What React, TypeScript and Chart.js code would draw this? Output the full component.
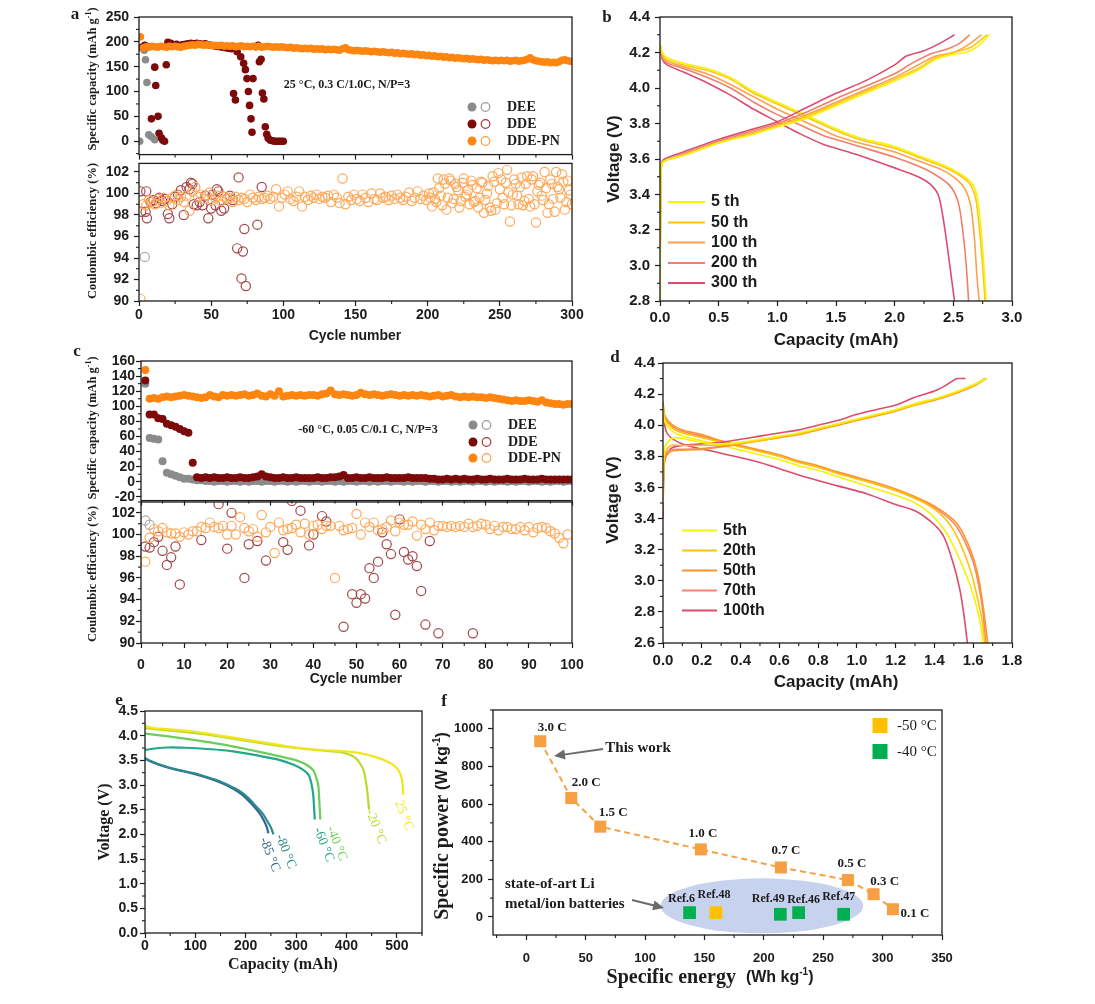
import React, { useEffect, useRef } from "react";
import { Chart, registerables } from "chart.js";

Chart.register(...registerables);

const SANS = "'Liberation Sans', Arial, Helvetica, sans-serif";
const SERIF = "'Liberation Serif', 'Times New Roman', Times, serif";
const INK = "#1c1c1c";
const sans = (px: number, w = "bold") => `${w} ${px}px ${SANS}`;
const serif = (px: number, w = "bold") => `${w} ${px}px ${SERIF}`;

type Pt = [number, number];

// ---------- (a) cycling at 25 °C ----------
const deeCapA: Pt[] = [[0.5, 0], [3.6, 183], [4.5, 164], [5.5, 118], [6.8, 13], [8.6, 9], [10.9, 3]];
const ddeCapA: Pt[] = [[2, 189], [4, 193], [6, 190], [8.6, 45], [10.9, 149], [11.6, 112], [13.2, 50], [13.9, 16], [15.5, 7], [16.5, 2], [17.7, 0], [18.9, 154], [20, 199], [22, 197], [24, 193], [26, 195], [28, 192], [30, 194], [32, 195], [34, 196], [36, 197], [38, 196], [40, 197], [42, 196], [44, 195], [46, 196], [48, 194], [50, 193], [52, 192], [54, 191], [56, 190], [58, 189], [60, 188], [62, 187], [64, 186], [65.5, 96], [66.8, 83], [68, 180], [70.5, 170], [72.5, 157], [73.7, 144], [74.8, 126], [75.8, 100], [76.6, 72], [77.6, 45], [78.3, 18], [79, 126], [81, 190], [82.5, 193], [83.4, 160], [84.6, 165], [85.5, 97], [86.5, 85], [87.5, 29], [88.5, 14], [89.5, 6], [91, 2], [92.5, 1], [94, 0], [95.5, 0], [97, 0], [98.5, 0], [100, 0]];
// DDE-PN capacity, odd cycles 1, 3, 5 ... 299
const pnCapA: number[] = [
  210, 188, 190, 189, 191, 190, 189, 191, 190, 189, 191, 190, 191, 190, 189, 191, 192, 193, 194, 193,
  195, 194, 193, 194, 193, 192, 193, 192, 193, 191, 192, 191, 192, 190, 191, 192, 190, 191, 190, 191,
  190, 191, 189, 190, 191, 190, 189, 190, 189, 190, 189, 188, 189, 187, 188, 187, 186, 187, 186, 187,
  185, 186, 185, 186, 184, 185, 184, 185, 184, 183, 186, 188, 184, 183, 182, 183, 182, 181, 182, 181,
  180, 181, 180, 179, 180, 179, 178, 179, 177, 178, 176, 177, 176, 175, 176, 174, 175, 173, 174, 172,
  173, 171, 172, 170, 171, 169, 170, 168, 169, 167, 168, 167, 166, 167, 165, 166, 165, 164, 165, 163,
  164, 163, 162, 163, 162, 163, 162, 163, 161, 162, 163, 161, 162, 163, 165, 168, 164, 162, 161, 160,
  159, 160, 158, 159, 158, 160, 163, 164, 162, 161,
];
const deeCeA: Pt[] = [[4, 94.1]];
const ddeCeA: Pt[] = [[1, 100.2], [1.5, 98.3], [4.6, 98.3], [5, 100.2], [5.5, 97.7], [8, 99.2], [10, 99.4], [12, 99.1], [14, 99.6], [16, 99.3], [18, 99.5], [20, 98.1], [21, 97.7], [23, 99.0], [25, 99.7], [27, 99.9], [29, 100.3], [31, 98.0], [33, 100.6], [35, 100.4], [36, 101.0], [37, 100.9], [38, 99.0], [40, 98.9], [42, 99.2], [44, 98.9], [46, 99.8], [48, 97.7], [50, 98.6], [51, 99.9], [53, 98.9], [54, 100.4], [55, 100.2], [57, 98.4], [59, 98.6], [61, 99.5], [63, 99.8], [65, 99.4], [68, 94.9], [69, 101.5], [71, 92.1], [72, 94.6], [73, 96.7], [74, 91.4], [82, 97.1], [85, 100.6]];
// DDE-PN coulombic efficiency, odd cycles 1 ... 299
const pnCeA: number[] = [
  90.2, 99.0, 98.9, 99.4, 99.2, 99.0, 99.5, 99.1, 99.6, 99.3, 98.9, 99.6, 99.8, 99.4, 99.7, 99.2, 99.8, 98.4, 100.2, 100.6,
  99.7, 99.9, 99.5, 99.8, 100.1, 99.4, 99.6, 99.8, 99.3, 99.7, 99.5, 99.6, 99.2, 99.7, 99.4, 99.6, 99.5, 99.2, 99.9, 99.6,
  99.4, 99.7, 99.5, 99.6, 99.8, 99.5, 99.7, 100.4, 98.8, 99.6, 99.9, 100.2, 99.5, 99.3, 99.7, 100.2, 98.8, 99.7, 99.4, 99.8,
  99.6, 99.9, 99.5, 99.7, 99.6, 99.8, 99.2, 99.9, 99.6, 99.1, 101.4, 99.0, 99.7, 99.4, 99.9, 99.5, 99.3, 99.9, 99.6, 99.2,
  100.0, 99.5, 99.4, 100.0, 99.6, 99.7, 99.4, 99.8, 99.5, 99.9, 99.6, 99.4, 99.7, 100.1, 99.3, 99.6, 100.2, 99.5, 99.8, 99.4,
  100.0, 98.8, 99.5, 101.4, 99.8, 101.3, 98.5, 101.4, 99.1, 100.9, 100.3, 99.3, 101.4, 99.9, 99.0, 100.8, 99.3, 98.7, 101.1, 98.2,
  100.0, 98.7, 101.6, 98.5, 101.9, 101.3, 99.0, 102.2, 97.4, 99.9, 100.9, 99.0, 101.5, 99.3, 101.6, 98.8, 101.6, 97.3, 100.8, 99.8,
  102.0, 98.2, 101.3, 99.5, 102.0, 100.4, 101.8, 98.5, 101.2, 99.9,
];
// DDE-PN coulombic efficiency, even cycles 202 ... 300
const pnCeALate: number[] = [
  99.6, 100.1, 99.2, 100.5, 98.9, 100.9, 99.6, 101.2, 99.5, 100.6, 98.7, 101.0, 99.7, 100.3, 101.2, 99.2, 100.5, 99.6, 101.0, 99.4,
  100.7, 98.4, 101.1, 99.1, 100.4, 99.6, 101.0, 100.1, 98.9, 101.3, 99.8, 100.6, 98.9, 100.9, 99.5, 101.3, 99.0, 100.2, 101.0, 99.4,
  100.5, 99.0, 100.9, 98.3, 100.6, 99.6, 101.1, 99.2, 100.3, 99.0,
];

// ---------- (b) voltage profiles at 25 °C ----------
const bLabels = ["5 th", "50 th", "100 th", "200 th", "300 th"];
const bColors = ["#f3f30c", "#ffc60d", "#fba250", "#f0806c", "#dc4c70"];
const bChg5: Pt[] = [[0, 2.8], [0.004, 3.3], [0.012, 3.56], [0.04, 3.59], [0.2, 3.62], [0.5, 3.69], [0.8, 3.74], [1.0, 3.78], [1.25, 3.83], [1.5, 3.9], [1.75, 3.97], [2.0, 4.04], [2.2, 4.1], [2.35, 4.16], [2.5, 4.19], [2.6, 4.2], [2.7, 4.23], [2.81, 4.3]];
const bChg50: Pt[] = [[0, 2.8], [0.004, 3.3], [0.012, 3.56], [0.04, 3.59], [0.2, 3.62], [0.5, 3.69], [0.8, 3.745], [1.0, 3.785], [1.25, 3.84], [1.5, 3.91], [1.75, 3.98], [2.0, 4.05], [2.2, 4.11], [2.35, 4.17], [2.5, 4.2], [2.65, 4.23], [2.79, 4.3]];
const bChg100: Pt[] = [[0, 2.8], [0.004, 3.3], [0.012, 3.56], [0.04, 3.59], [0.2, 3.625], [0.5, 3.695], [0.8, 3.75], [1.0, 3.79], [1.25, 3.85], [1.5, 3.92], [1.75, 3.99], [2.0, 4.06], [2.2, 4.13], [2.35, 4.18], [2.5, 4.2], [2.62, 4.24], [2.74, 4.3]];
const bChg200: Pt[] = [[0, 2.8], [0.004, 3.3], [0.012, 3.56], [0.04, 3.59], [0.2, 3.63], [0.5, 3.7], [0.8, 3.76], [1.0, 3.8], [1.25, 3.865], [1.5, 3.94], [1.75, 4.01], [2.0, 4.08], [2.15, 4.14], [2.3, 4.19], [2.45, 4.22], [2.55, 4.25], [2.64, 4.3]];
const bChg300: Pt[] = [[0, 2.8], [0.004, 3.3], [0.012, 3.57], [0.04, 3.6], [0.2, 3.64], [0.5, 3.71], [0.8, 3.77], [1.0, 3.81], [1.25, 3.89], [1.5, 3.97], [1.75, 4.04], [2.0, 4.13], [2.1, 4.18], [2.25, 4.21], [2.38, 4.25], [2.51, 4.3]];
const bDis5: Pt[] = [[0, 4.25], [0.02, 4.2], [0.06, 4.17], [0.2, 4.14], [0.4, 4.11], [0.6, 4.06], [0.8, 3.98], [1.0, 3.92], [1.2, 3.86], [1.4, 3.8], [1.5, 3.77], [1.7, 3.72], [2.0, 3.67], [2.2, 3.62], [2.4, 3.57], [2.55, 3.52], [2.65, 3.47], [2.7, 3.4], [2.73, 3.25], [2.76, 3.0], [2.78, 2.8]];
const bDis50: Pt[] = [[0, 4.25], [0.02, 4.19], [0.06, 4.16], [0.2, 4.13], [0.4, 4.1], [0.6, 4.05], [0.8, 3.97], [1.0, 3.91], [1.2, 3.85], [1.4, 3.79], [1.5, 3.76], [1.7, 3.71], [2.0, 3.66], [2.2, 3.61], [2.4, 3.56], [2.55, 3.51], [2.64, 3.46], [2.69, 3.38], [2.72, 3.22], [2.75, 3.0], [2.77, 2.8]];
const bDis100: Pt[] = [[0, 4.24], [0.02, 4.18], [0.06, 4.15], [0.2, 4.12], [0.4, 4.08], [0.6, 4.02], [0.8, 3.95], [1.0, 3.88], [1.2, 3.82], [1.4, 3.76], [1.5, 3.73], [1.7, 3.69], [2.0, 3.64], [2.2, 3.59], [2.4, 3.54], [2.52, 3.49], [2.6, 3.43], [2.65, 3.33], [2.68, 3.15], [2.7, 2.95], [2.72, 2.8]];
const bDis200: Pt[] = [[0, 4.24], [0.02, 4.17], [0.06, 4.14], [0.2, 4.11], [0.4, 4.06], [0.6, 4.0], [0.8, 3.92], [1.0, 3.85], [1.2, 3.79], [1.4, 3.73], [1.5, 3.71], [1.7, 3.67], [2.0, 3.61], [2.2, 3.56], [2.35, 3.51], [2.47, 3.45], [2.54, 3.36], [2.58, 3.2], [2.61, 3.0], [2.63, 2.8]];
const bDis300: Pt[] = [[0, 4.24], [0.02, 4.16], [0.06, 4.13], [0.2, 4.09], [0.4, 4.03], [0.6, 3.96], [0.8, 3.88], [1.0, 3.81], [1.2, 3.74], [1.4, 3.68], [1.5, 3.66], [1.7, 3.62], [2.0, 3.55], [2.2, 3.5], [2.3, 3.46], [2.37, 3.4], [2.41, 3.28], [2.45, 3.1], [2.48, 2.95], [2.51, 2.8]];

// ---------- (c) cycling at -60 °C ----------
const pnCapC: number[] = [
  148, 110, 111, 110, 112, 113, 112, 113, 114, 115, 114, 113, 112, 111, 112, 115, 113, 112, 115, 114,
  115, 114, 115, 116, 114, 115, 117, 114, 113, 116, 114, 120, 113, 114, 115, 114, 115, 114, 115, 115,
  114, 116, 117, 121, 116, 115, 116, 115, 114, 115, 118, 116, 115, 116, 115, 114, 115, 116, 115, 114,
  115, 114, 115, 114, 115, 114, 113, 114, 115, 113, 114, 115, 113, 112, 113, 112, 113, 112, 112, 111,
  112, 111, 110, 109, 108, 107, 108, 107, 107, 108, 107, 106, 108, 105, 104, 103, 103, 102, 103, 103,
];
const ddeCapC: number[] = [
  134, 89, 89, 84, 83, 77, 75, 73, 70, 67, 65, 25, 6, 5, 6, 5, 6, 5, 5, 6,
  5, 5, 6, 5, 5, 6, 7, 10, 7, 6, 5, 5, 6, 5, 5, 6, 5, 5, 5, 5,
  6, 5, 5, 6, 6, 7, 9, 5, 5, 6, 5, 5, 6, 5, 5, 5, 6, 5, 5, 5,
  5, 6, 5, 5, 5, 5, 4, 4, 3, 3, 4, 3, 4, 3, 4, 3, 3, 4, 3, 3,
  4, 3, 3, 3, 4, 3, 3, 3, 4, 3, 3, 3, 4, 3, 3, 3, 3, 3, 3, 3,
];
const deeCapC: number[] = [
  130, 58, 57, 56, 27, 12, 10, 8, 6, 4, 4, 3, 2, 2, 1, 1, 0, 1, 1, 0,
  1, 1, 0, 1, 0, 1, 1, 0, 1, 1, 0, 1, 1, 0, 1, 0, 1, 1, 0, 1,
  1, 0, 1, 1, 0, 1, 0, 1, 1, 0, 1, 1, 0, 1, 0, 1, 1, 0, 1, 1,
  0, 1, 0, 1, 1, 0, 1, 1, 0, 1, 1, 0, 1, 0, 1, 1, 0, 1, 1, 0,
  1, 0, 1, 1, 0, 1, 0, 1, 1, 0, 1, 1, 0, 1, 0, 1, 1, 0, 1, 1,
];
const pnCeC: number[] = [
  97.5, 99.7, 100.5, 100.3, 100.6, 100.2, 100.1, 100.1, 99.8, 100.2, 100.0, 100.3, 100.3, 100.7, 100.6, 101.1, 100.7, 100.6, 100.8, 100.0,
  100.8, 100.0, 101.6, 100.6, 100.3, 100.5, 99.8, 101.8, 100.2, 100.7, 98.3, 101.1, 100.4, 100.5, 100.6, 100.9, 100.2, 101.0, 100.0, 100.8,
  100.9, 100.5, 100.8, 100.8, 96.0, 100.8, 100.4, 100.5, 100.6, 101.9, 100.0, 101.1, 100.7, 101.1, 100.4, 100.5, 100.7, 101.3, 100.3, 101.1,
  100.9, 100.9, 101.2, 99.9, 100.9, 100.5, 101.1, 100.4, 100.8, 100.8, 100.7, 100.8, 100.7, 100.8, 100.7, 101.0, 100.7, 100.8, 101.0, 100.9,
  100.5, 100.8, 100.4, 100.7, 100.7, 100.5, 100.5, 100.7, 100.4, 100.7, 100.2, 100.6, 100.7, 100.6, 100.3, 100.1, 99.7, 99.2, 100.0,
];
const ddeCeC: Pt[] = [[1, 98.9], [2, 98.8], [3, 99.3], [4, 99.8], [5, 98.5], [6, 97.2], [7, 97.9], [8, 98.9], [9, 95.4], [14, 99.5], [18, 102.8], [20, 98.7], [21, 102.0], [24, 96.0], [25, 99.1], [27, 99.4], [29, 97.6], [33, 99.3], [34, 98.6], [35, 103.1], [37, 102.2], [39, 99.0], [40, 100.0], [42, 101.7], [43, 101.2], [47, 91.5], [49, 94.5], [50, 93.7], [51, 94.5], [52, 94.1], [53, 96.9], [54, 96.0], [55, 97.5], [56, 100.2], [57, 99.1], [58, 98.2], [59, 92.6], [60, 101.4], [61, 98.4], [62, 97.7], [63, 98.0], [64, 97.1], [65, 94.8], [66, 91.7], [67, 99.4], [69, 90.9], [77, 90.9]];
const deeCeC: Pt[] = [[1, 101.3], [2, 100.9]];

// ---------- (d) voltage profiles at -60 °C ----------
const dLabels = ["5th", "20th", "50th", "70th", "100th"];
const dColors = ["#f3f30c", "#ffc20e", "#ff9428", "#f3876a", "#dc4b6c"];
const dChg5: Pt[] = [[0, 3.5], [0.003, 3.75], [0.01, 3.86], [0.04, 3.91], [0.07, 3.92], [0.12, 3.91], [0.2, 3.89], [0.3, 3.88], [0.4, 3.89], [0.5, 3.91], [0.6, 3.93], [0.7, 3.95], [0.8, 3.98], [0.9, 4.01], [1.0, 4.04], [1.1, 4.07], [1.2, 4.1], [1.3, 4.14], [1.4, 4.17], [1.5, 4.21], [1.6, 4.26], [1.67, 4.3]];
const dChg20: Pt[] = [[0, 3.5], [0.003, 3.72], [0.01, 3.82], [0.04, 3.87], [0.1, 3.87], [0.2, 3.87], [0.3, 3.875], [0.4, 3.885], [0.5, 3.9], [0.6, 3.925], [0.7, 3.945], [0.8, 3.975], [0.9, 4.005], [1.0, 4.035], [1.1, 4.065], [1.2, 4.095], [1.3, 4.13], [1.4, 4.165], [1.5, 4.205], [1.6, 4.255], [1.665, 4.3]];
const dChg50: Pt[] = [[0, 3.45], [0.003, 3.68], [0.01, 3.78], [0.04, 3.83], [0.1, 3.84], [0.2, 3.845], [0.3, 3.86], [0.4, 3.88], [0.5, 3.9], [0.6, 3.92], [0.7, 3.94], [0.8, 3.97], [0.9, 4.0], [1.0, 4.03], [1.1, 4.06], [1.2, 4.09], [1.3, 4.13], [1.4, 4.16], [1.5, 4.2], [1.6, 4.25], [1.67, 4.3]];
const dChg70: Pt[] = [[0, 3.45], [0.003, 3.7], [0.01, 3.8], [0.04, 3.84], [0.1, 3.845], [0.2, 3.85], [0.3, 3.865], [0.4, 3.885], [0.5, 3.905], [0.6, 3.925], [0.7, 3.945], [0.8, 3.975], [0.9, 4.005], [1.0, 4.035], [1.1, 4.065], [1.2, 4.095], [1.3, 4.135], [1.4, 4.165], [1.5, 4.205], [1.6, 4.255], [1.66, 4.3]];
const dChg100: Pt[] = [[0, 3.4], [0.003, 3.65], [0.01, 3.78], [0.04, 3.85], [0.1, 3.87], [0.2, 3.88], [0.3, 3.89], [0.4, 3.91], [0.5, 3.93], [0.6, 3.95], [0.7, 3.97], [0.8, 4.0], [0.9, 4.03], [1.0, 4.07], [1.1, 4.1], [1.2, 4.13], [1.3, 4.18], [1.4, 4.22], [1.45, 4.25], [1.5, 4.29], [1.52, 4.3], [1.56, 4.3]];
const dDis5: Pt[] = [[0, 4.12], [0.01, 4.02], [0.05, 3.96], [0.1, 3.93], [0.2, 3.9], [0.3, 3.87], [0.4, 3.84], [0.5, 3.81], [0.6, 3.78], [0.7, 3.74], [0.8, 3.71], [0.9, 3.67], [1.0, 3.63], [1.1, 3.59], [1.2, 3.55], [1.3, 3.5], [1.38, 3.43], [1.45, 3.33], [1.5, 3.22], [1.55, 3.08], [1.59, 2.95], [1.62, 2.82], [1.64, 2.7], [1.65, 2.6]];
const dDis20: Pt[] = [[0, 4.13], [0.01, 4.04], [0.05, 3.98], [0.1, 3.95], [0.2, 3.92], [0.3, 3.89], [0.4, 3.86], [0.5, 3.83], [0.6, 3.8], [0.7, 3.76], [0.8, 3.73], [0.9, 3.69], [1.0, 3.655], [1.1, 3.62], [1.2, 3.58], [1.3, 3.53], [1.4, 3.46], [1.48, 3.36], [1.54, 3.22], [1.59, 3.05], [1.62, 2.9], [1.645, 2.75], [1.66, 2.6]];
const dDis50: Pt[] = [[0, 4.15], [0.01, 4.06], [0.05, 4.0], [0.1, 3.97], [0.2, 3.94], [0.3, 3.9], [0.4, 3.87], [0.5, 3.84], [0.6, 3.81], [0.7, 3.77], [0.8, 3.74], [0.9, 3.7], [1.0, 3.665], [1.1, 3.63], [1.2, 3.59], [1.3, 3.54], [1.4, 3.48], [1.5, 3.39], [1.55, 3.3], [1.6, 3.15], [1.63, 3.0], [1.655, 2.8], [1.675, 2.6]];
const dDis70: Pt[] = [[0, 4.14], [0.01, 4.05], [0.05, 3.99], [0.1, 3.96], [0.2, 3.93], [0.3, 3.895], [0.4, 3.865], [0.5, 3.835], [0.6, 3.8], [0.7, 3.765], [0.8, 3.73], [0.9, 3.695], [1.0, 3.66], [1.1, 3.62], [1.2, 3.58], [1.3, 3.53], [1.4, 3.47], [1.5, 3.37], [1.55, 3.27], [1.6, 3.12], [1.63, 2.96], [1.65, 2.8], [1.665, 2.6]];
const dDis100: Pt[] = [[0, 4.12], [0.02, 3.95], [0.1, 3.88], [0.3, 3.82], [0.5, 3.76], [0.7, 3.68], [0.9, 3.61], [1.05, 3.56], [1.2, 3.49], [1.3, 3.45], [1.4, 3.36], [1.45, 3.28], [1.5, 3.1], [1.53, 2.95], [1.55, 2.8], [1.57, 2.6]];

// ---------- (e) discharge at different temperatures ----------
const eLabels = ["25 °C", "-20 °C", "-40 °C", "-60 °C", "-80 °C", "-85 °C"];
const eColors = ["#f4e41e", "#b6dc2c", "#6cce58", "#22a788", "#2a8a8c", "#31678e"];
const e25: Pt[] = [[0, 4.22], [5, 4.18], [20, 4.15], [50, 4.13], [100, 4.08], [150, 4.0], [200, 3.92], [250, 3.84], [300, 3.76], [350, 3.71], [400, 3.68], [430, 3.64], [460, 3.56], [480, 3.48], [495, 3.39], [505, 3.27], [510, 3.12], [512, 2.95], [513, 2.8]];
const eM20: Pt[] = [[0, 4.15], [20, 4.13], [50, 4.1], [100, 4.05], [150, 3.98], [200, 3.9], [250, 3.82], [300, 3.75], [350, 3.7], [390, 3.66], [410, 3.6], [420, 3.53], [428, 3.42], [434, 3.3], [438, 3.1], [441, 2.9], [443, 2.7], [445, 2.5]];
const eM40: Pt[] = [[0, 4.04], [50, 3.98], [100, 3.91], [150, 3.83], [200, 3.73], [250, 3.62], [290, 3.53], [308, 3.47], [322, 3.4], [334, 3.3], [340, 3.15], [344, 3.0], [346, 2.7], [348, 2.3]];
const eM60: Pt[] = [[0, 3.71], [20, 3.74], [45, 3.76], [80, 3.755], [110, 3.74], [150, 3.71], [175, 3.68], [200, 3.64], [242, 3.56], [270, 3.5], [295, 3.41], [312, 3.32], [325, 3.2], [331, 3.0], [334, 2.8], [336, 2.5], [337, 2.3]];
const eM80: Pt[] = [[0, 3.55], [10, 3.49], [25, 3.43], [43, 3.37], [70, 3.3], [96, 3.24], [120, 3.17], [142, 3.1], [165, 3.0], [189, 2.87], [205, 2.74], [222, 2.55], [235, 2.4], [242, 2.28], [250, 2.14], [255, 2.0]];
const eM85: Pt[] = [[0, 3.54], [10, 3.48], [25, 3.42], [43, 3.36], [70, 3.29], [96, 3.23], [120, 3.16], [142, 3.08], [165, 2.98], [185, 2.86], [200, 2.74], [215, 2.58], [228, 2.42], [236, 2.28], [242, 2.14], [245, 2.02]];

// ---------- (f) Ragone plot ----------
const rateLabels = ["3.0 C", "2.0 C", "1.5 C", "1.0 C", "0.7 C", "0.5 C", "0.3 C", "0.1 C"];
const workEnergy = [11.8, 37.9, 62.3, 147, 214.4, 270.8, 292.4, 308.7];
const workPower = [934, 632, 480, 359, 263, 196, 121, 41];
const refM40Names = ["Ref.6", "Ref.49", "Ref.46", "Ref.47"];
const refM40Energy = [137.5, 213.9, 229.3, 267.2];
const refM40Power = [23, 14, 23, 14];
const refM50Names = ["Ref.48"];
const refM50Energy = [159.7];
const refM50Power = [23];

// ---------- drawing helpers ----------
type Run = { t: string; f: string; dy?: number };
type Txt = { x: number; y: number; runs: Run[]; rot?: number; align?: "left" | "center" | "right"; color?: string };
type AxisDef = { min: number; max: number; step: number; minor?: number; labels?: boolean; digits?: number; size?: number; pad?: number };
type Box = { x: number; y: number; w: number; h: number };
type Spec = {
  frame: Box;
  area: { l: number; t: number; r: number; b: number };
  datasets: any[];
  x: AxisDef;
  y: AxisDef;
  texts?: Txt[];
  before?: (c: any, f: Box) => void;
  after?: (c: any, f: Box) => void;
};

const T = (x: number, y: number, t: string, f: string, extra: Partial<Txt> = {}): Txt => ({ x, y, runs: [{ t, f }], ...extra });

function drawTxt(ctx: CanvasRenderingContext2D, t: Txt, ox: number, oy: number) {
  ctx.save();
  ctx.translate(t.x - ox, t.y - oy);
  if (t.rot) ctx.rotate((t.rot * Math.PI) / 180);
  let total = 0;
  for (const r of t.runs) {
    ctx.font = r.f;
    total += ctx.measureText(r.t).width;
  }
  let x = t.align === "left" ? 0 : t.align === "right" ? -total : -total / 2;
  ctx.textAlign = "left";
  ctx.textBaseline = "middle";
  ctx.fillStyle = t.color || INK;
  for (const r of t.runs) {
    ctx.font = r.f;
    ctx.fillText(r.t, x, r.dy || 0);
    x += ctx.measureText(r.t).width;
  }
  ctx.restore();
}

const pts = (p: Pt[]) => p.map(([x, y]) => ({ x, y }));
const dots = (p: Pt[], color: string, r: number, order: number) => ({
  data: pts(p), showLine: false, pointRadius: r, pointBackgroundColor: color, pointBorderColor: color, pointBorderWidth: 0, order,
});
const rings = (p: Pt[], color: string, r: number, order: number) => ({
  data: pts(p), showLine: false, pointRadius: r, pointBackgroundColor: "rgba(255,255,255,0)", pointBorderColor: color, pointBorderWidth: 1.2, order,
});
const curve = (p: Pt[], color: string, width: number) => ({
  data: pts(p), showLine: true, pointRadius: 0, borderColor: color, borderWidth: width, tension: 0.3, fill: false,
});
const oddCycles = (v: number[]): Pt[] => v.map((y, i) => [2 * i + 1, y]);
const evenFrom = (start: number, v: number[]): Pt[] => v.map((y, i) => [start + 2 * i, y]);
const byCycle = (v: number[]): Pt[] => v.map((y, i) => [i + 1, y]);

const C = {
  deeFill: "#8b8b8b", deeRing: "#aaaaaa",
  ddeFill: "#7d0a0a", ddeRing: "#a3474b",
  pnFill: "#ff8511", pnRing: "#ffa95a",
};

function dotLegend(ctx: CanvasRenderingContext2D, f: Box, x: number, ys: number[]) {
  const rows = [
    { fill: C.deeFill, ring: "#9a9a9a", label: "DEE" },
    { fill: C.ddeFill, ring: "#a8383c", label: "DDE" },
    { fill: C.pnFill, ring: "#ff9b45", label: "DDE-PN" },
  ];
  rows.forEach((r, i) => {
    const y = ys[i] - f.y;
    ctx.save();
    ctx.fillStyle = r.fill;
    ctx.beginPath();
    ctx.arc(x - f.x, y, 4.5, 0, Math.PI * 2);
    ctx.fill();
    ctx.strokeStyle = r.ring;
    ctx.lineWidth = 1.2;
    ctx.beginPath();
    ctx.arc(x + 13.5 - f.x, y, 4.3, 0, Math.PI * 2);
    ctx.stroke();
    ctx.restore();
    drawTxt(ctx, T(x + 35, ys[i], r.label, serif(14), { align: "left" }), f.x, f.y);
  });
}

function lineLegend(ctx: CanvasRenderingContext2D, f: Box, x0: number, x1: number, ys: number[], labels: string[], colors: string[]) {
  ys.forEach((y, i) => {
    ctx.save();
    ctx.strokeStyle = colors[i];
    ctx.lineWidth = 2;
    ctx.beginPath();
    ctx.moveTo(x0 - f.x, y - f.y);
    ctx.lineTo(x1 - f.x, y - f.y);
    ctx.stroke();
    ctx.restore();
    drawTxt(ctx, T(x1 + 6, y, labels[i], sans(16), { align: "left" }), f.x, f.y);
  });
}

function arrow(ctx: CanvasRenderingContext2D, f: Box, x0: number, y0: number, x1: number, y1: number) {
  const a = Math.atan2(y1 - y0, x1 - x0);
  ctx.save();
  ctx.strokeStyle = "#6b6b6b";
  ctx.fillStyle = "#6b6b6b";
  ctx.lineWidth = 2;
  ctx.beginPath();
  ctx.moveTo(x0 - f.x, y0 - f.y);
  ctx.lineTo(x1 - f.x - 8 * Math.cos(a), y1 - f.y - 8 * Math.sin(a));
  ctx.stroke();
  ctx.beginPath();
  ctx.moveTo(x1 - f.x, y1 - f.y);
  ctx.lineTo(x1 - f.x - 11 * Math.cos(a) + 5 * Math.sin(a), y1 - f.y - 11 * Math.sin(a) - 5 * Math.cos(a));
  ctx.lineTo(x1 - f.x - 11 * Math.cos(a) - 5 * Math.sin(a), y1 - f.y - 11 * Math.sin(a) + 5 * Math.cos(a));
  ctx.closePath();
  ctx.fill();
  ctx.restore();
}

const capTitle = (x: number, y: number): Txt => ({
  x, y, rot: -90,
  runs: [{ t: "Specific capacity (mAh g", f: serif(12.5) }, { t: "-1", f: serif(8), dy: -4 }, { t: ")", f: serif(12.5) }],
});

// ---------- panel specifications ----------
const specATop: Spec = {
  frame: { x: 55, y: 0, w: 540, h: 168 },
  area: { l: 139, t: 17, r: 572, b: 160 },
  datasets: [
    dots(oddCycles(pnCapA), C.pnFill, 3.8, 0),
    dots(ddeCapA, C.ddeFill, 3.8, 1),
    dots(deeCapA, C.deeFill, 3.8, 2),
  ],
  x: { min: 0, max: 300, step: 50, minor: 25, labels: false },
  y: { min: -27, max: 250, step: 50, minor: 25, pad: 5 },
  texts: [capTitle(93, 79), T(347, 85, "25 °C, 0.3 C/1.0C, N/P=3", serif(12))],
  after: (c, f) => dotLegend(c.ctx, f, 472, [107, 124, 141]),
};

const specACe: Spec = {
  frame: { x: 55, y: 150, w: 540, h: 200 },
  area: { l: 139, t: 160, r: 572, b: 301 },
  datasets: [
    rings([...oddCycles(pnCeA), ...evenFrom(202, pnCeALate)], C.pnRing, 4.6, 0),
    rings(ddeCeA, C.ddeRing, 4.6, 1),
    rings(deeCeA, C.deeRing, 4.6, 2),
  ],
  x: { min: 0, max: 300, step: 50, minor: 25, pad: 1 },
  y: { min: 90, max: 102.8, step: 2, minor: 1, pad: 5 },
  texts: [T(93, 231, "Coulombic efficiency (%)", serif(12.5), { rot: -90 }), T(355, 336, "Cycle number", sans(14))],
};

const specB: Spec = {
  frame: { x: 598, y: 0, w: 440, h: 352 },
  area: { l: 660, t: 17, r: 1012, b: 301 },
  datasets: [
    ...[bChg5, bChg50, bChg100, bChg200, bChg300].map((p, i) => curve(p, bColors[i], 1.6)),
    ...[bDis5, bDis50, bDis100, bDis200, bDis300].map((p, i) => curve(p, bColors[i], 1.6)),
  ],
  x: { min: 0, max: 3, step: 0.5, minor: 0.25, digits: 1, size: 15, pad: 3 },
  y: { min: 2.8, max: 4.4, step: 0.2, minor: 0.1, digits: 1, size: 15, pad: 5 },
  texts: [T(614, 159, "Voltage (V)", sans(17), { rot: -90 }), T(836, 340, "Capacity (mAh)", sans(17))],
  after: (c, f) => lineLegend(c.ctx, f, 668, 705, [202, 222.5, 242.5, 263, 283], bLabels, bColors),
};

const specCTop: Spec = {
  frame: { x: 55, y: 345, w: 540, h: 165 },
  area: { l: 141, t: 361, r: 572, b: 502 },
  datasets: [
    dots(byCycle(pnCapC), C.pnFill, 4, 0),
    dots(byCycle(ddeCapC), C.ddeFill, 4, 1),
    dots(byCycle(deeCapC), C.deeFill, 4, 2),
  ],
  x: { min: 0, max: 100, step: 10, minor: 5, labels: false },
  y: { min: -25, max: 160, step: 20, minor: 10, pad: 1 },
  texts: [capTitle(93, 428), T(368, 430, "-60 °C, 0.05 C/0.1 C, N/P=3", serif(12))],
  after: (c, f) => dotLegend(c.ctx, f, 473, [425, 442, 458]),
};

const specCCe: Spec = {
  frame: { x: 55, y: 492, w: 540, h: 200 },
  area: { l: 141, t: 502, r: 572, b: 643 },
  datasets: [
    rings(byCycle(pnCeC), C.pnRing, 4.6, 0),
    rings(ddeCeC, C.ddeRing, 4.6, 1),
    rings(deeCeC, C.deeRing, 4.6, 2),
  ],
  x: { min: 0, max: 100, step: 10, minor: 5, pad: 9 },
  y: { min: 90, max: 103, step: 2, minor: 1, pad: 1 },
  texts: [T(93, 574, "Coulombic efficiency (%)", serif(12.5), { rot: -90 }), T(356, 679, "Cycle number", sans(14))],
};

const specD: Spec = {
  frame: { x: 598, y: 345, w: 440, h: 355 },
  area: { l: 663, t: 363, r: 1012, b: 643 },
  datasets: [
    ...[dChg5, dChg20, dChg50, dChg70, dChg100].map((p, i) => curve(p, dColors[i], 1.6)),
    ...[dDis5, dDis20, dDis50, dDis70, dDis100].map((p, i) => curve(p, dColors[i], 1.6)),
  ],
  x: { min: 0, max: 1.8, step: 0.2, minor: 0.1, digits: 1, size: 15, pad: 4 },
  y: { min: 2.6, max: 4.4, step: 0.2, minor: 0.1, digits: 1, size: 15, pad: 3 },
  texts: [T(613, 500, "Voltage (V)", sans(17), { rot: -90 }), T(836, 682, "Capacity (mAh)", sans(17))],
  after: (c, f) => lineLegend(c.ctx, f, 682, 717, [530.5, 550.5, 570.5, 590.5, 610.5], dLabels, dColors),
};

// start points of the rotated temperature labels
const eLabelAt: Pt[] = [[398, 801], [369, 810], [330, 827], [317, 828], [279, 835], [263, 838]];

const specE: Spec = {
  frame: { x: 90, y: 695, w: 350, h: 300 },
  area: { l: 145, t: 711, r: 422, b: 933 },
  datasets: [e25, eM20, eM40, eM60, eM80, eM85].map((p, i) => curve(p, eColors[i], 2.2)),
  x: { min: 0, max: 550, step: 100, minor: 50, pad: 0 },
  y: { min: 0, max: 4.5, step: 0.5, minor: 0.25, digits: 1, pad: 2 },
  texts: [T(105, 822, "Voltage (V)", serif(16), { rot: -90 }), T(283, 965, "Capacity (mAh)", serif(16))],
  after: (c, f) => {
    eLabels.forEach((l, i) => {
      drawTxt(c.ctx, T(eLabelAt[i][0], eLabelAt[i][1], l, serif(13.5, "normal"), { rot: 68, align: "left", color: eColors[i] }), f.x, f.y);
    });
  },
};

// label offsets (px) relative to the marker they describe
const rateOffsets: Pt[] = [[12, -14], [15, -15], [13, -14], [2, -16], [5, -17], [4, -16], [11, -13], [22, 4]];
const refOffsetsM40: Pt[] = [[-8, -14], [-12, -15], [5, -13], [-5, -17]];
const refOffsetsM50: Pt[] = [[-2, -18]];

const specF: Spec = {
  frame: { x: 430, y: 695, w: 620, h: 305 },
  area: { l: 493, t: 710, r: 942, b: 935 },
  datasets: [
    {
      data: workEnergy.map((x, i) => ({ x, y: workPower[i] })),
      showLine: true, borderColor: "#f5a247", borderWidth: 2, borderDash: [6, 4], tension: 0,
      pointStyle: "rect", pointRadius: 8.5, pointBackgroundColor: "#f7a043", pointBorderWidth: 0, order: 0,
    },
    {
      data: refM40Energy.map((x, i) => ({ x, y: refM40Power[i] })),
      showLine: false, pointStyle: "rect", pointRadius: 9, pointBackgroundColor: "#00b050", pointBorderWidth: 0, order: 1,
    },
    {
      data: refM50Energy.map((x, i) => ({ x, y: refM50Power[i] })),
      showLine: false, pointStyle: "rect", pointRadius: 9, pointBackgroundColor: "#ffc000", pointBorderWidth: 0, order: 1,
    },
  ],
  x: { min: -28, max: 350, step: 50, minor: 25, size: 13, pad: 11 },
  y: { min: -96, max: 1100, step: 200, minor: 100, size: 13, pad: 5 },
  texts: [
    {
      x: 443, y: 826, rot: -90,
      runs: [{ t: "Specific power ", f: serif(20) }, { t: "(W kg", f: sans(16) }, { t: "-1", f: sans(10), dy: -6 }, { t: ")", f: sans(16) }],
    },
    {
      x: 710, y: 978,
      runs: [{ t: "Specific energy  ", f: serif(20) }, { t: "(Wh kg", f: sans(16) }, { t: "-1", f: sans(10), dy: -6 }, { t: ")", f: sans(16) }],
    },
    T(638, 748, "This work", serif(15)),
    T(505, 884, "state-of-art Li", serif(15), { align: "left" }),
    T(505, 904, "metal/ion batteries", serif(15), { align: "left" }),
    T(897, 726, "-50 °C", serif(15, "normal"), { align: "left" }),
    T(897, 752, "-40 °C", serif(15, "normal"), { align: "left" }),
  ],
  before: (c) => {
    const xs = c.scales.x, ys = c.scales.y, ctx = c.ctx;
    const cx = xs.getPixelForValue(198.4), cy = ys.getPixelForValue(59);
    const rx = xs.getPixelForValue(198.4 + 85.3) - cx;
    const ry = cy - ys.getPixelForValue(59 + 146);
    ctx.save();
    ctx.fillStyle = "#c6d2ee";
    ctx.beginPath();
    ctx.ellipse(cx, cy, rx, ry, 0, 0, Math.PI * 2);
    ctx.fill();
    ctx.restore();
  },
  after: (c, f) => {
    const xs = c.scales.x, ys = c.scales.y, ctx = c.ctx;
    const at = (x: number, y: number, o: Pt, text: string, font: string) => {
      const px = xs.getPixelForValue(x) + o[0] + f.x;
      const py = ys.getPixelForValue(y) + o[1] + f.y;
      drawTxt(ctx, T(px, py, text, font), f.x, f.y);
    };
    rateLabels.forEach((l, i) => at(workEnergy[i], workPower[i], rateOffsets[i], l, serif(13)));
    refM40Names.forEach((l, i) => at(refM40Energy[i], refM40Power[i], refOffsetsM40[i], l, serif(12)));
    refM50Names.forEach((l, i) => at(refM50Energy[i], refM50Power[i], refOffsetsM50[i], l, serif(12)));
    ctx.save();
    ctx.fillStyle = "#ffc000";
    ctx.fillRect(872.5 - f.x, 718 - f.y, 15, 15);
    ctx.fillStyle = "#00b050";
    ctx.fillRect(872.5 - f.x, 744 - f.y, 15, 15);
    ctx.restore();
    arrow(ctx, f, 603, 749, 554, 756);
    arrow(ctx, f, 632, 900, 664, 908);
  },
};

// ---------- chart component ----------
function Plot({ spec }: { spec: Spec }) {
  const ref = useRef<HTMLCanvasElement | null>(null);
  const F = spec.frame;
  useEffect(() => {
    const cv = ref.current;
    if (!cv) return;
    const A = spec.area;
    const scale = (d: AxisDef, horizontal: boolean, fixed: number) => ({
      type: "linear",
      min: d.min,
      max: d.max,
      afterFit: (s: any) => {
        if (horizontal) s.height = fixed;
        else s.width = fixed;
      },
      afterBuildTicks: (s: any) => {
        const out: { value: number }[] = [];
        for (let k = Math.ceil(d.min / d.step - 1e-9); k * d.step <= d.max + 1e-9; k++) {
          out.push({ value: +(k * d.step).toFixed(6) });
        }
        s.ticks = out;
      },
      ticks: {
        stepSize: d.step, includeBounds: false, autoSkip: false, maxRotation: 0, minRotation: 0,
        display: d.labels !== false, padding: d.pad ?? 3, color: INK,
        font: { family: SANS, size: d.size ?? 14, weight: "bold" },
        callback: (v: any) => Number(v).toFixed(d.digits ?? 0),
      },
      grid: { display: true, drawOnChartArea: false, drawTicks: true, tickLength: 5, tickWidth: 1.2, tickColor: INK },
      border: { display: false },
    });
    const decor = {
      id: "decor",
      beforeDatasetsDraw(c: any) {
        spec.before?.(c, F);
      },
      afterDraw(c: any) {
        const ctx: CanvasRenderingContext2D = c.ctx;
        const ca = c.chartArea;
        ctx.save();
        ctx.strokeStyle = INK;
        ctx.lineWidth = 1.1;
        const mx = spec.x.minor;
        if (mx) {
          for (let k = Math.ceil(spec.x.min / mx - 1e-9); k * mx <= spec.x.max + 1e-9; k++) {
            const r = (k * mx) / spec.x.step;
            if (Math.abs(r - Math.round(r)) < 1e-6) continue;
            const px = c.scales.x.getPixelForValue(k * mx);
            ctx.beginPath();
            ctx.moveTo(px, ca.bottom);
            ctx.lineTo(px, ca.bottom + 3);
            ctx.stroke();
          }
        }
        const my = spec.y.minor;
        if (my) {
          for (let k = Math.ceil(spec.y.min / my - 1e-9); k * my <= spec.y.max + 1e-9; k++) {
            const r = (k * my) / spec.y.step;
            if (Math.abs(r - Math.round(r)) < 1e-6) continue;
            const py = c.scales.y.getPixelForValue(k * my);
            ctx.beginPath();
            ctx.moveTo(ca.left, py);
            ctx.lineTo(ca.left - 3, py);
            ctx.stroke();
          }
        }
        ctx.lineWidth = 1.3;
        ctx.strokeRect(ca.left, ca.top, ca.right - ca.left, ca.bottom - ca.top);
        ctx.restore();
        for (const t of spec.texts ?? []) drawTxt(ctx, t, F.x, F.y);
        spec.after?.(c, F);
      },
    };
    const chart = new Chart(cv, {
      type: "scatter",
      data: { datasets: spec.datasets },
      options: {
        responsive: false,
        animation: false,
        events: [],
        layout: { padding: { top: A.t - F.y, right: F.x + F.w - A.r, left: 0, bottom: 0 } },
        plugins: { legend: { display: false }, tooltip: { enabled: false } },
        scales: { x: scale(spec.x, true, F.y + F.h - A.b), y: scale(spec.y, false, A.l - F.x) },
      },
      plugins: [decor],
    } as any);
    return () => chart.destroy();
  }, [spec]);
  return (
    <canvas
      ref={ref}
      width={F.w}
      height={F.h}
      style={{ position: "absolute", left: F.x, top: F.y, width: F.w, height: F.h }}
    />
  );
}

const panelLetters: [string, number, number][] = [
  ["a", 75, 13], ["b", 607, 16], ["c", 77, 350], ["d", 615, 356], ["e", 119, 699], ["f", 444, 700],
];

const specs = [specATop, specACe, specB, specCTop, specCCe, specD, specE, specF];

export default function App() {
  return (
    <div style={{ position: "absolute", left: 0, top: 0, width: 1095, height: 1004, background: "#fff" }}>
      {specs.map((s, i) => (
        <Plot key={i} spec={s} />
      ))}
      {panelLetters.map(([l, x, y]) => (
        <div
          key={l}
          style={{
            position: "absolute", left: x, top: y, transform: "translate(-50%, -50%)",
            font: `bold 17px ${SERIF}`, color: INK, lineHeight: 1,
          }}
        >
          {l}
        </div>
      ))}
    </div>
  );
}
